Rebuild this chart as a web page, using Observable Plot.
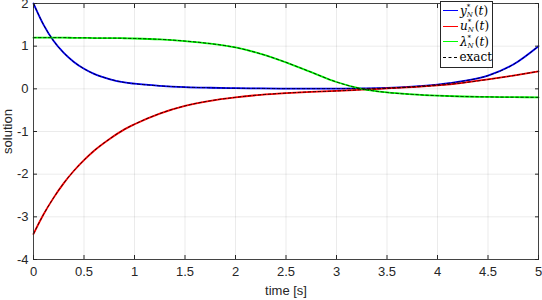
<!DOCTYPE html>
<html><head><meta charset="utf-8">
<script src="https://cdn.jsdelivr.net/npm/d3@7"></script>
<script src="https://cdn.jsdelivr.net/npm/@observablehq/plot@0.6"></script>
<style>
body{margin:0;background:#fff;}
#wrap{position:relative;width:542px;height:300px;}
.legend{position:absolute;left:440px;top:1px;width:53px;height:67px;border:1px solid #262626;background:#fff;
  font-family:"DejaVu Serif","Liberation Serif",serif;font-size:12px;color:#000;box-sizing:border-box;padding-top:1px;}
.row{height:15.5px;display:flex;align-items:center;white-space:nowrap;}
.sw{display:inline-block;width:15px;margin-left:2px;margin-right:2px;height:0;border-top:1.5px solid;}
.ss{display:inline-flex;flex-direction:column;font-size:7px;line-height:8px;vertical-align:middle;margin-right:1px;}
</style>
</head><body>
<div id="wrap"></div>
<script>
const t    = [0,0.1,0.2,0.3,0.4,0.5,0.6,0.75,0.9,1,1.25,1.5,1.75,2,2.25,2.5,2.75,3,3.25,3.5,3.75,4,4.25,4.5,4.75,5];
const yN   = [2.0,1.50,1.12,0.84,0.63,0.47,0.35,0.23,0.15,0.12,0.07,0.04,0.025,0.015,0.01,0.005,0.005,0.005,0.01,0.02,0.05,0.10,0.18,0.31,0.57,1.0];
const uN   = [-3.40,-2.94,-2.55,-2.21,-1.92,-1.67,-1.45,-1.18,-0.95,-0.83,-0.58,-0.40,-0.28,-0.20,-0.14,-0.10,-0.07,-0.05,-0.02,0.01,0.04,0.08,0.14,0.22,0.31,0.41];
const lamN = [1.20,1.20,1.20,1.20,1.195,1.195,1.19,1.19,1.185,1.18,1.16,1.12,1.06,0.97,0.82,0.62,0.39,0.16,0.0,-0.085,-0.13,-0.16,-0.18,-0.19,-0.195,-0.2];
const xTicks = [0,0.5,1,1.5,2,2.5,3,3.5,4,4.5,5];
const yTicks = [-4,-3,-2,-1,0,1,2];
const seriesNames = ["y","u","lambda"];
const seriesColors = ["#0000ff","#ff0000","#00ff00"];

const rows = [];
[yN,uN,lamN].forEach((arr,k)=>arr.forEach((v,i)=>rows.push({t:t[i],v,s:seriesNames[k]})));

const chart = Plot.plot({
  width:542, height:300,
  marginLeft:33, marginRight:4, marginTop:3, marginBottom:41,
  x:{domain:[0,5]},
  y:{domain:[-4,2]},
  color:{domain:seriesNames, range:seriesColors},
  style:{fontFamily:"'Liberation Sans', Arial, sans-serif", fontSize:"13px", color:"#262626", background:"#fff"},
  marks:[
    Plot.gridX(xTicks,{stroke:"#000", strokeOpacity:0.08}),
    Plot.gridY(yTicks,{stroke:"#000", strokeOpacity:0.08}),
    Plot.line(rows,{x:"t", y:"v", z:"s", stroke:"s", strokeWidth:1.8, curve:"monotone-x"}),
    Plot.line(rows,{x:"t", y:"v", z:"s", stroke:"#000", strokeWidth:0.8, strokeDasharray:"2.5,2.5", curve:"monotone-x"}),
    Plot.frame({stroke:"#262626", strokeOpacity:0.85}),
    Plot.axisX(xTicks,{anchor:"bottom", tickSize:-4, tickPadding:11, label:"time [s]", labelArrow:"none", labelAnchor:"center", labelOffset:35, tickFormat:d=>String(d)}),
    Plot.axisX(xTicks,{anchor:"top", tickSize:-4, tickFormat:()=>"", label:null}),
    Plot.axisY(yTicks,{anchor:"left", tickSize:-4, tickPadding:9, label:"solution", labelArrow:"none", labelAnchor:"center", labelOffset:31, tickFormat:d=>String(d)}),
    Plot.axisY(yTicks,{anchor:"right", tickSize:-4, tickFormat:()=>"", label:null})
  ]
});
const wrap = document.getElementById("wrap");
wrap.appendChild(chart);

const leg = document.createElement("div");
leg.className = "legend";
leg.innerHTML = `
<div class="row"><span class="sw" style="border-color:#0000ff"></span><i>y</i><span class="ss"><span>*</span><i>N</i></span>(<i>t</i>)</div>
<div class="row"><span class="sw" style="border-color:#ff0000"></span><i>u</i><span class="ss"><span>*</span><i>N</i></span>(<i>t</i>)</div>
<div class="row"><span class="sw" style="border-color:#00ff00"></span><i>λ</i><span class="ss"><span>*</span><i>N</i></span>(<i>t</i>)</div>
<div class="row"><span class="sw" style="border-top:1px dashed #000"></span>exact</div>`;
wrap.appendChild(leg);
</script>
</body></html>
